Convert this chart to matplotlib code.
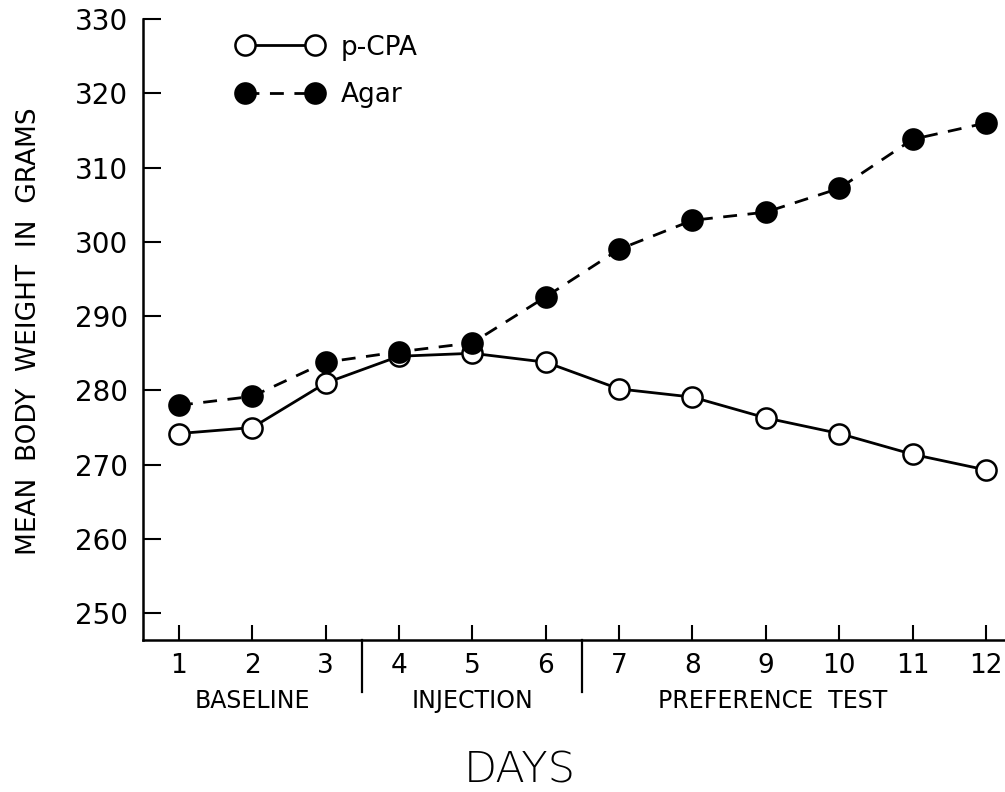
import matplotlib
matplotlib.use("Agg")
import matplotlib.pyplot as plt
import matplotlib.transforms as mtransforms

days = [1, 2, 3, 4, 5, 6, 7, 8, 9, 10, 11, 12]
pcpa = [274.2, 275.0, 281.0, 284.6, 285.0, 283.8, 280.2, 279.1, 276.3, 274.2, 271.4, 269.3]
agar = [278.0, 279.2, 283.8, 285.2, 286.4, 292.6, 299.0, 302.9, 304.0, 307.2, 313.8, 316.0]
yticks = [250, 260, 270, 280, 290, 300, 310, 320, 330]
xtick_labels = ["1", "2", "3", "4", "5", "6", "7", "8", "9", "10", "11", "12"]
phases = ["BASELINE", "INJECTION", "PREFERENCE  TEST"]
phase_centers = [2, 5, 9.1]
phase_breaks = [3.5, 6.5]

plt.rcParams['font.family'] = ['DejaVu Sans']

fig = plt.figure(figsize=(10.05, 7.92), dpi=100)
ax = fig.add_axes([0.1423, 0.1919, 0.8577, 0.7841])

lw = 2.0
ax.plot(days, pcpa, '-', color='black', lw=lw, marker='o', ms=14.5,
        mfc='white', mec='black', mew=1.8, label='p-CPA', zorder=3)
ax.plot(days, agar, color='black', lw=lw, ls=(0, (5, 3.8)), marker='o', ms=14.5,
        mfc='black', mec='black', mew=1.8, label='Agar', zorder=4)

ax.set_xlim(0.51, 12.26)
ax.set_ylim(246.4, 330)
ax.spines['top'].set_visible(False)
ax.spines['right'].set_visible(False)
ax.spines['left'].set_linewidth(1.8)
ax.spines['bottom'].set_linewidth(1.8)

ax.set_yticks(yticks)
ax.set_yticklabels([str(v) for v in yticks], fontsize=20)
ax.tick_params(axis='y', direction='in', length=13, width=1.5, pad=11)
ax.set_xticks(days)
ax.set_xticklabels(xtick_labels, fontsize=19)
ax.tick_params(axis='x', direction='in', length=11, width=1.5, pad=9)

trans = mtransforms.blended_transform_factory(ax.transData, ax.transAxes)
for xb in phase_breaks:
    ax.plot([xb, xb], [0, -0.084], transform=trans, color='black', lw=1.6, clip_on=False)
for name, xc in zip(phases, phase_centers):
    ax.text(xc, -0.098, name, transform=trans, ha='center', va='center', fontsize=17)

ax.set_ylabel("MEAN  BODY  WEIGHT  IN  GRAMS", fontsize=19)
ax.yaxis.set_label_coords(-0.117, 0.497)
fig.text(0.517, 0.028, "DAYS", ha='center', va='center', fontsize=31, fontweight='light')

leg = ax.legend(loc='upper left', bbox_to_anchor=(0.082, 1.013), frameon=False,
                numpoints=2, handlelength=3.25, handletextpad=0.65,
                labelspacing=0.8, fontsize=19)

fig.savefig("out.png", dpi=100)
